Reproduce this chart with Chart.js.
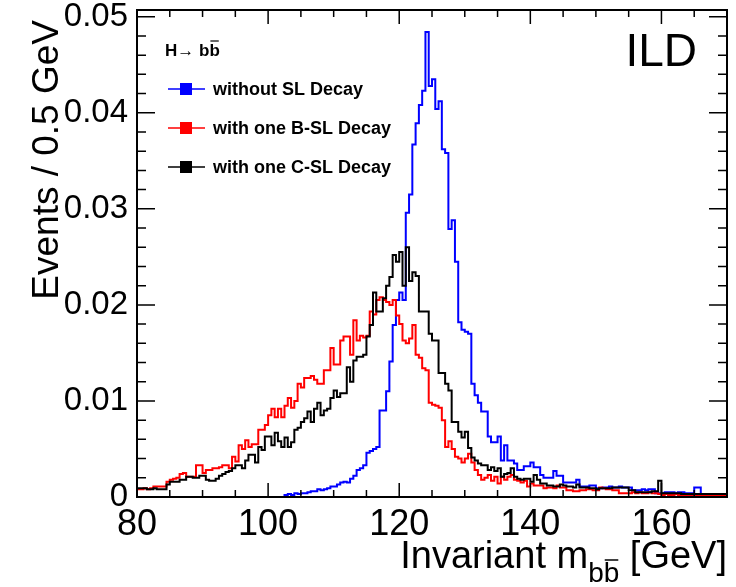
<!DOCTYPE html>
<html>
<head>
<meta charset="utf-8">
<script src="https://cdn.jsdelivr.net/npm/chart.js@4.4.1/dist/chart.umd.min.js"></script>
<style>
  html, body { margin: 0; padding: 0; background: #fff; }
  #wrap { width: 736px; height: 587px; }
</style>
</head>
<body>
<div id="wrap"><canvas id="chart" width="736" height="587"></canvas></div>
<script>
// Histogram binning: 0.5 GeV bins from 80 to 170 GeV
const binLow = 80;
const binWidth = 0.5;
const xTickVals = [80, 100, 120, 140, 160];
const yTickVals = [0, 0.01, 0.02, 0.03, 0.04, 0.05];

// without SL Decay (one row = 5 GeV)
const noSLVals = [
    0, 0, 0, 0, 0, 0, 0, 0, 0, 0,
    0, 0, 0, 0, 0, 0, 0, 0, 0, 0,
    0, 0, 0, 0, 0, 0, 0, 0, 0, 0,
    0, 0, 0, 0, 0, 0, 0, 0, 0, 0,
    0, 0, 0, 0, 0, 0, 0.0002, 0.0003, 0.0002, 0.0004,
    0.0003, 0.0004, 0.0004, 0.0005, 0.0006, 0.0006, 0.0008, 0.0007, 0.0008, 0.0009,
    0.0011, 0.0011, 0.0013, 0.0015, 0.0016, 0.0015, 0.0019, 0.0022, 0.0028, 0.0030,
    0.0033, 0.0046, 0.0048, 0.0050, 0.0052, 0.0090, 0.0090, 0.0110, 0.0141, 0.0179,
    0.0205, 0.0213, 0.0205, 0.0296, 0.0315, 0.0367, 0.0389, 0.0408, 0.0423, 0.0484,
    0.0428, 0.0435, 0.0404, 0.0412, 0.0362, 0.0358, 0.0279, 0.0288, 0.0245, 0.0182,
    0.0174, 0.0172, 0.0170, 0.0118, 0.0106, 0.0098, 0.0089, 0.0089, 0.0063, 0.0057,
    0.0057, 0.0063, 0.0038, 0.0054, 0.0038, 0.0038, 0.0035, 0.0028, 0.0028, 0.0032,
    0.0032, 0.0036, 0.0031, 0.0031, 0.0023, 0.0020, 0.0020, 0.0020, 0.0027, 0.0022,
    0.0022, 0.0015, 0.0015, 0.0015, 0.0015, 0.0018, 0.0011, 0.0011, 0.0011, 0.0012,
    0.0012, 0.0009, 0.0009, 0.0010, 0.0010, 0.0011, 0.0010, 0.0010, 0.0011, 0.0010,
    0.0010, 0.0010, 0.0007, 0.0007, 0.0007, 0.0008, 0.0007, 0.0008, 0.0008, 0.0004,
    0.0004, 0.0004, 0.0005, 0.0005, 0.0005, 0.0004, 0.0005, 0.0005, 0.0004, 0.0004,
    0.0004, 0.0010, 0.0010, 0.0003, 0.0003, 0.0003, 0.0003, 0.0003, 0.0003, 0.0003
];

// with one B-SL Decay
const bSLVals = [
    0.0006, 0.0008, 0.0008, 0.0009, 0.0008, 0.0009, 0.0011, 0.0011, 0.0011, 0.0011,
    0.0016, 0.0018, 0.0019, 0.0020, 0.0024, 0.0025, 0.0021, 0.0021, 0.0021, 0.0033,
    0.0033, 0.0025, 0.0028, 0.0028, 0.0030, 0.0030, 0.0031, 0.0033, 0.0033, 0.0030,
    0.0042, 0.0037, 0.0054, 0.0050, 0.0059, 0.0052, 0.0055, 0.0055, 0.0070, 0.0070,
    0.0075, 0.0085, 0.0092, 0.0083, 0.0092, 0.0083, 0.0095, 0.0103, 0.0093, 0.0100,
    0.0118, 0.0114, 0.0124, 0.0124, 0.0126, 0.0122, 0.0118, 0.0118, 0.0132, 0.0132,
    0.0155, 0.0138, 0.0138, 0.0163, 0.0167, 0.0167, 0.0148, 0.0184, 0.0163, 0.0168,
    0.0166, 0.0168, 0.0193, 0.0190, 0.0205, 0.0208, 0.0205, 0.0203, 0.0200, 0.0205,
    0.0189, 0.0180, 0.0163, 0.0160, 0.0165, 0.0179, 0.0148, 0.0145, 0.0134, 0.0132,
    0.0098, 0.0096, 0.0095, 0.0093, 0.0080, 0.0052, 0.0058, 0.0050, 0.0042, 0.0040,
    0.0036, 0.0040, 0.0045, 0.0036, 0.0028, 0.0023, 0.0018, 0.0020, 0.0023, 0.0017,
    0.0021, 0.0014, 0.0021, 0.0018, 0.0021, 0.0023, 0.0018, 0.0017, 0.0015, 0.0017,
    0.0011, 0.0014, 0.0012, 0.0012, 0.0012, 0.0009, 0.0010, 0.0010, 0.0009, 0.0012,
    0.0010, 0.0010, 0.0007, 0.0007, 0.0006, 0.0006, 0.0007, 0.0007, 0.0008, 0.0008,
    0.0007, 0.0007, 0.0010, 0.0009, 0.0008, 0.0008, 0.0007, 0.0007, 0.0004, 0.0004,
    0.0004, 0.0004, 0.0005, 0.0004, 0.0005, 0.0004, 0.0004, 0.0005, 0.0004, 0.0004,
    0.0003, 0.0002, 0.0003, 0.0002, 0.0002, 0.0003, 0.0002, 0.0002, 0.0002, 0.0002,
    0.0002, 0.0002, 0.0002, 0.0001, 0.0002, 0.0002, 0.0001, 0.0001, 0.0001, 0.0001
];

// with one C-SL Decay
const cSLVals = [
    0.0008, 0.0009, 0.0009, 0.0009, 0.0008, 0.0008, 0.0009, 0.0008, 0.0008, 0.0008,
    0.0013, 0.0016, 0.0016, 0.0016, 0.0018, 0.0018, 0.0021, 0.0021, 0.0020, 0.0020,
    0.0022, 0.0022, 0.0018, 0.0017, 0.0017, 0.0019, 0.0022, 0.0024, 0.0026, 0.0027,
    0.0030, 0.0033, 0.0033, 0.0030, 0.0038, 0.0044, 0.0044, 0.0036, 0.0052, 0.0049,
    0.0063, 0.0063, 0.0054, 0.0067, 0.0058, 0.0052, 0.0062, 0.0052, 0.0057, 0.0070,
    0.0072, 0.0078, 0.0082, 0.0089, 0.0078, 0.0092, 0.0098, 0.0085, 0.0090, 0.0092,
    0.0103, 0.0111, 0.0104, 0.0108, 0.0108, 0.0135, 0.0120, 0.0142, 0.0146, 0.0146,
    0.0148, 0.0167, 0.0179, 0.0213, 0.0193, 0.0193, 0.0207, 0.0220, 0.0229, 0.0252,
    0.0245, 0.0255, 0.0220, 0.0260, 0.0225, 0.0234, 0.0230, 0.0193, 0.0193, 0.0193,
    0.0170, 0.0163, 0.0163, 0.0129, 0.0129, 0.0118, 0.0111, 0.0078, 0.0078, 0.0068,
    0.0062, 0.0068, 0.0051, 0.0041, 0.0038, 0.0035, 0.0033, 0.0033, 0.0028, 0.0031,
    0.0027, 0.0030, 0.0021, 0.0024, 0.0025, 0.0030, 0.0021, 0.0019, 0.0018, 0.0019,
    0.0019, 0.0016, 0.0023, 0.0018, 0.0014, 0.0014, 0.0012, 0.0012, 0.0011, 0.0011,
    0.0013, 0.0012, 0.0011, 0.0011, 0.0010, 0.0013, 0.0010, 0.0010, 0.0010, 0.0009,
    0.0009, 0.0008, 0.0009, 0.0009, 0.0009, 0.0009, 0.0010, 0.0010, 0.0010, 0.0010,
    0.0010, 0.0007, 0.0007, 0.0005, 0.0005, 0.0005, 0.0005, 0.0005, 0.0006, 0.0006,
    0.0017, 0.0004, 0.0004, 0.0004, 0.0004, 0.0004, 0.0004, 0.0003, 0.0003, 0.0003,
    0.0003, 0.0003, 0.0003, 0.0003, 0.0003, 0.0003, 0.0003, 0.0003, 0.0003, 0.0003
];

const FONT = "'Liberation Sans', Arial, Helvetica, sans-serif";

// Turn bin contents into step points (left edge of each bin + closing right edge)
function toSteps(vals) {
    const pts = vals.map((v, i) => ({ x: binLow + i * binWidth, y: v }));
    pts.push({ x: binLow + vals.length * binWidth, y: vals[vals.length - 1] });
    return pts;
}

// Frame, inward ticks on all sides, titles, legend box and label
const rootStyle = {
    id: 'rootStyle',
    afterDraw(chart) {
        const { ctx, chartArea: a, scales: { x, y } } = chart;
        ctx.save();
        ctx.strokeStyle = '#000';
        ctx.lineWidth = 2;
        ctx.strokeRect(a.left, a.top, a.right - a.left, a.bottom - a.top);

        ctx.lineWidth = 1.5;
        ctx.beginPath();
        // x ticks every 5 GeV, long ones at the labels
        for (let v = x.min; v <= x.max; v += 5) {
            const px = x.getPixelForValue(v);
            const len = xTickVals.includes(v) ? 14 : 7;
            ctx.moveTo(px, a.bottom); ctx.lineTo(px, a.bottom - len);
            ctx.moveTo(px, a.top); ctx.lineTo(px, a.top + len);
        }
        // y ticks every 0.002
        for (let k = 0; k <= 25; k++) {
            const v = k * 0.002;
            if (v > y.max) break;
            const py = y.getPixelForValue(v);
            const len = k % 5 === 0 ? 18 : 9;
            ctx.moveTo(a.left, py); ctx.lineTo(a.left + len, py);
            ctx.moveTo(a.right, py); ctx.lineTo(a.right - len, py);
        }
        ctx.stroke();

        // y axis title
        ctx.fillStyle = '#000';
        ctx.font = '37px ' + FONT;
        ctx.save();
        ctx.translate(58, 20);
        ctx.rotate(-Math.PI / 2);
        ctx.textAlign = 'right';
        ctx.textBaseline = 'alphabetic';
        ctx.fillText('Events / 0.5 GeV', 0, 0);
        ctx.restore();

        // x axis title with subscript bb-bar
        const mainTxt = 'Invariant m';
        const subTxt = 'bb';
        const tailTxt = ' [GeV]';
        ctx.font = '38px ' + FONT;
        const w1 = ctx.measureText(mainTxt).width;
        const w3 = ctx.measureText(tailTxt).width;
        ctx.font = '28px ' + FONT;
        const w2 = ctx.measureText(subTxt).width;
        const wb = ctx.measureText('b').width;
        let tx = a.right - (w1 + w2 + w3);
        const base = 568;
        ctx.textAlign = 'left';
        ctx.font = '38px ' + FONT;
        ctx.fillText(mainTxt, tx, base);
        ctx.font = '28px ' + FONT;
        ctx.fillText(subTxt, tx + w1, base + 14);
        ctx.lineWidth = 1.5;
        ctx.beginPath();
        ctx.moveTo(tx + w1 + wb + 1, base - 8);
        ctx.lineTo(tx + w1 + 2 * wb - 1, base - 8);
        ctx.stroke();
        ctx.font = '38px ' + FONT;
        ctx.fillText(tailTxt, tx + w1 + w2, base);

        // experiment label
        ctx.font = '46px ' + FONT;
        ctx.textAlign = 'right';
        ctx.fillText('ILD', 697, 66);

        // process label
        ctx.font = 'bold 17px ' + FONT;
        ctx.textAlign = 'left';
        const hx = 165, hy = 56;
        const hTxt = 'H\u2192 ';
        ctx.fillText(hTxt, hx, hy);
        const hw = ctx.measureText(hTxt).width;
        ctx.fillText('bb', hx + hw, hy);
        const bw = ctx.measureText('b').width;
        ctx.lineWidth = 1.2;
        ctx.beginPath();
        ctx.moveTo(hx + hw + bw + 1, hy - 15);
        ctx.lineTo(hx + hw + 2 * bw - 1, hy - 15);
        ctx.stroke();

        // legend entries
        const rows = [89, 128, 167];
        ctx.font = 'bold 18px ' + FONT;
        ctx.textBaseline = 'middle';
        chart.data.datasets.forEach((ds, i) => {
            const ry = rows[i];
            ctx.strokeStyle = ds.borderColor;
            ctx.lineWidth = 1.5;
            ctx.beginPath();
            ctx.moveTo(168, ry); ctx.lineTo(205, ry);
            ctx.stroke();
            ctx.fillStyle = ds.borderColor;
            ctx.fillRect(180, ry - 6, 12, 12);
            ctx.fillStyle = '#000';
            ctx.fillText(ds.label, 213, ry + 1);
        });
        ctx.restore();
    }
};

new Chart(document.getElementById('chart'), {
    type: 'line',
    data: {
        datasets: [
            { label: 'without SL Decay', data: toSteps(noSLVals), borderColor: '#0000ff', order: 2 },
            { label: 'with one B-SL Decay', data: toSteps(bSLVals), borderColor: '#ff0000', order: 1 },
            { label: 'with one C-SL Decay', data: toSteps(cSLVals), borderColor: '#000000', order: 0 }
        ]
    },
    options: {
        responsive: false,
        animation: false,
        devicePixelRatio: 1,
        layout: { padding: { top: 10, right: 9, left: 0, bottom: 0 } },
        elements: {
            line: { stepped: 'after', borderWidth: 2, fill: false, tension: 0 },
            point: { radius: 0, hitRadius: 0 }
        },
        plugins: { legend: { display: false }, tooltip: { enabled: false } },
        scales: {
            x: {
                type: 'linear',
                min: 80,
                max: 170,
                grid: { display: false, drawTicks: false },
                border: { display: false },
                afterBuildTicks: s => { s.ticks = xTickVals.map(v => ({ value: v })); },
                afterFit: s => { s.height = 90; s.paddingLeft = 0; s.paddingRight = 0; },
                ticks: {
                    padding: 6,
                    color: '#000',
                    font: { family: FONT, size: 36 },
                    maxRotation: 0,
                    callback: v => String(v)
                }
            },
            y: {
                type: 'linear',
                min: 0,
                max: 0.0507,
                grid: { display: false, drawTicks: false },
                border: { display: false },
                afterBuildTicks: s => { s.ticks = yTickVals.map(v => ({ value: v })); },
                afterFit: s => { s.width = 137; s.paddingTop = 0; s.paddingBottom = 0; },
                ticks: {
                    padding: 9,
                    color: '#000',
                    font: { family: FONT, size: 33 },
                    callback: v => (v === 0 ? '0' : v.toFixed(2))
                }
            }
        }
    },
    plugins: [rootStyle]
});
</script>
</body>
</html>
